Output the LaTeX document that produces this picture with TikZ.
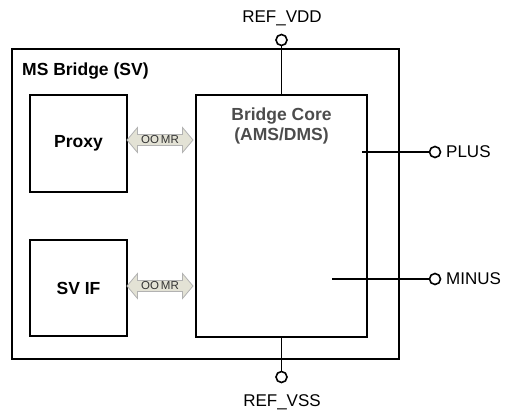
\documentclass[tikz,border=0pt]{standalone}
\usepackage{fontspec}
\setmainfont{Liberation Sans}
\usetikzlibrary{shapes.arrows,positioning,calc}
\tikzset{
  block/.style={draw, rectangle, inner sep=0pt, line width=1.8pt},
  wire/.style={line width=1.8pt},
  pin/.style={draw, circle, fill=white, minimum size=11pt, inner sep=0pt, line width=1.6pt},
  pinlabel/.style={font=\fontsize{17}{20}\selectfont, inner sep=0pt},
  blocklabel/.style={font=\fontsize{17.5}{21}\selectfont\bfseries, inner sep=0pt},
  oomr/.style={double arrow, draw=gray!60, fill=olive!25!gray!25, line width=0.8pt,
    double arrow head extend=7pt, double arrow tip angle=100, minimum height=66pt,
    inner xsep=0pt, inner ysep=1pt, text=black!80,
    font=\fontsize{11.5}{12}\selectfont}
}

\begin{document}
\begin{tikzpicture}[x=1pt,y=-1pt]
    \useasboundingbox (0,0) rectangle (509,413);

    % outer bridge box
    \node[block, minimum width=387pt, minimum height=310pt] (bridge) at (205.5,204) {};
    \node[blocklabel, anchor=west] (title) at (22,71) {MS Bridge (SV)};

    % inner blocks
    \node[block, minimum width=97pt, minimum height=97pt] (proxy) at (78.5,143.5) {};
    \node[blocklabel] at (proxy) {Proxy};
    \node[block, minimum width=97pt, minimum height=96pt] (svif) at (78.5,288) {};
    \node[blocklabel] at (svif) {SV IF};
    \node[block, minimum width=171pt, minimum height=242pt] (core) at (281.5,216) {};
    \node[blocklabel, text=black!70] (corename) at (281.5,116) {Bridge Core};
    \node[blocklabel, text=black!70] (coretype) at (281.5,136) {(AMS/DMS)};

    % OOMR links
    \node[oomr] (oomrA) at (160,140) {OO\,MR};
    \node[oomr] (oomrB) at (160,286) {OO\,MR};

    % supply pins
    \node[pin] (vdd) at (281.5,40) {};
    \node[pinlabel] (vddlabel) at (282,18) {REF\_VDD};
    \draw[wire] (vdd) -- (core.north);
    \node[pin] (vss) at (281.5,377) {};
    \node[pinlabel] (vsslabel) at (282,402) {REF\_VSS};
    \draw[wire] (core.south) -- (vss);

    % signal pins
    \coordinate (plusin) at (362,152);
    \node[pin] (plus) at (435,152) {};
    \node[pinlabel, anchor=west] (pluslabel) at (446,152) {PLUS};
    \draw[wire] (plusin) -- (plus);
    \coordinate (minusin) at (332,279);
    \node[pin] (minus) at (435,279) {};
    \node[pinlabel, anchor=west] (minuslabel) at (446,279) {MINUS};
    \draw[wire] (minusin) -- (minus);
\end{tikzpicture}
\end{document}
